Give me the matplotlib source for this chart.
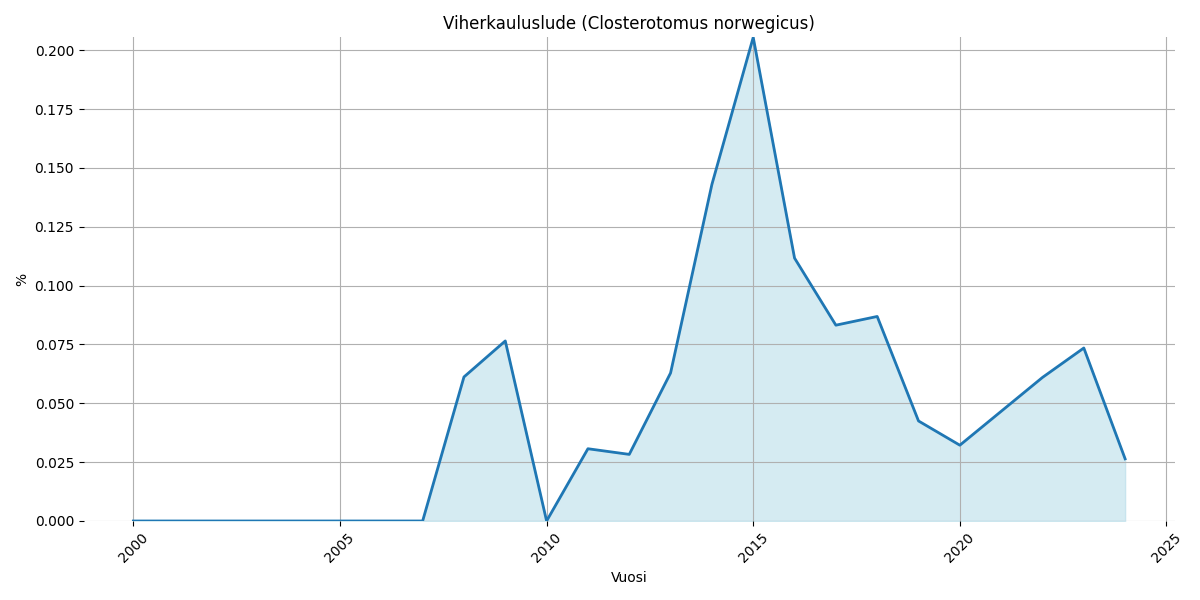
import matplotlib.pyplot as plt

vuodet = list(range(2000, 2025))
osuudet = [0.0, 0.0, 0.0, 0.0, 0.0, 0.0, 0.0, 0.0,
           0.0612, 0.0765, 0.0, 0.0307, 0.0283, 0.0629, 0.143,
           0.2055, 0.1117, 0.0832, 0.0869, 0.0425, 0.0322,
           0.0466, 0.0610, 0.0735, 0.0264]

fig, ax = plt.subplots(figsize=(12, 6), dpi=100)
ax.fill_between(vuodet, osuudet, color='lightblue', alpha=0.5)
ax.plot(vuodet, osuudet, color='#1f77b4', linewidth=2)

ax.set_title("Viherkauluslude (Closterotomus norwegicus)")
ax.set_xlabel("Vuosi")
ax.set_ylabel("%")
ax.set_ylim(0, max(osuudet))
ax.grid(True, color='#b0b0b0')
for s in ax.spines.values():
    s.set_visible(False)
plt.xticks(rotation=45)

plt.tight_layout()
plt.savefig("out.png")
